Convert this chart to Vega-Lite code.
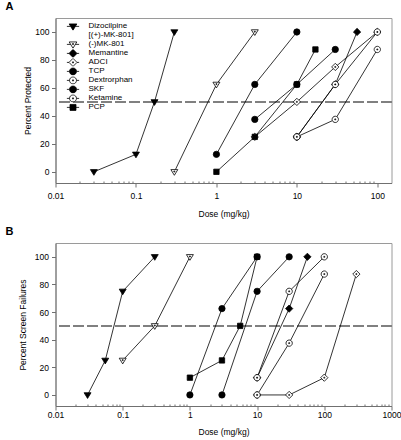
{
  "$schema": "https://vega.github.io/schema/vega-lite/v6.json",
  "padding": {"left": 4.5, "top": 0, "right": 5, "bottom": 0},
  "spacing": 6,
  "config": {
    "font": "Liberation Sans",
    "view": {"stroke": "#9a9a9a", "strokeWidth": 1},
    "axis": {"grid": false, "domainColor": "#707070", "tickColor": "#707070", "labelColor": "#000", "titleColor": "#000", "labelFontSize": 8.5, "titleFontSize": 8.5, "titleFontWeight": "normal", "labelFont": "Liberation Sans", "titleFont": "Liberation Sans", "tickWidth": 1, "domainWidth": 1},
    "title": {"font": "Liberation Sans", "fontSize": 11, "fontWeight": "bold", "anchor": "start", "frame": "group", "color": "#000"},
    "legend": {"labelFont": "Liberation Sans"}
  },
  "datasets": {
    "a": [
      {"drug": "Dizocilpine", "dose": 0.03, "pct": 0},
      {"drug": "Dizocilpine", "dose": 0.1, "pct": 12.5},
      {"drug": "Dizocilpine", "dose": 0.17, "pct": 50},
      {"drug": "Dizocilpine", "dose": 0.3, "pct": 100},
      {"drug": "(-)MK-801", "dose": 0.3, "pct": 0},
      {"drug": "(-)MK-801", "dose": 1, "pct": 62.5},
      {"drug": "(-)MK-801", "dose": 3, "pct": 100},
      {"drug": "Memantine", "dose": 10, "pct": 25},
      {"drug": "Memantine", "dose": 30, "pct": 62.5},
      {"drug": "Memantine", "dose": 56, "pct": 100},
      {"drug": "ADCI", "dose": 3, "pct": 25},
      {"drug": "ADCI", "dose": 10, "pct": 50},
      {"drug": "ADCI", "dose": 30, "pct": 75},
      {"drug": "ADCI", "dose": 100, "pct": 100},
      {"drug": "TCP", "dose": 1, "pct": 12.5},
      {"drug": "TCP", "dose": 3, "pct": 62.5},
      {"drug": "TCP", "dose": 10, "pct": 100},
      {"drug": "Dextrorphan", "dose": 10, "pct": 25},
      {"drug": "Dextrorphan", "dose": 30, "pct": 62.5},
      {"drug": "Dextrorphan", "dose": 100, "pct": 100},
      {"drug": "SKF", "dose": 3, "pct": 37.5},
      {"drug": "SKF", "dose": 10, "pct": 62.5},
      {"drug": "SKF", "dose": 30, "pct": 87.5},
      {"drug": "Ketamine", "dose": 10, "pct": 25},
      {"drug": "Ketamine", "dose": 30, "pct": 37.5},
      {"drug": "Ketamine", "dose": 100, "pct": 87.5},
      {"drug": "PCP", "dose": 1, "pct": 0},
      {"drug": "PCP", "dose": 3, "pct": 25},
      {"drug": "PCP", "dose": 10, "pct": 62.5},
      {"drug": "PCP", "dose": 17, "pct": 87.5}
    ],
    "b": [
      {"drug": "Dizocilpine", "dose": 0.03, "pct": 0},
      {"drug": "Dizocilpine", "dose": 0.055, "pct": 25},
      {"drug": "Dizocilpine", "dose": 0.1, "pct": 75},
      {"drug": "Dizocilpine", "dose": 0.3, "pct": 100},
      {"drug": "(-)MK-801", "dose": 0.1, "pct": 25},
      {"drug": "(-)MK-801", "dose": 0.3, "pct": 50},
      {"drug": "(-)MK-801", "dose": 1, "pct": 100},
      {"drug": "Memantine", "dose": 10, "pct": 12.5},
      {"drug": "Memantine", "dose": 30, "pct": 62.5},
      {"drug": "Memantine", "dose": 56, "pct": 100},
      {"drug": "ADCI", "dose": 10, "pct": 0},
      {"drug": "ADCI", "dose": 30, "pct": 0},
      {"drug": "ADCI", "dose": 100, "pct": 12.5},
      {"drug": "ADCI", "dose": 300, "pct": 87.5},
      {"drug": "TCP", "dose": 1, "pct": 0},
      {"drug": "TCP", "dose": 3, "pct": 62.5},
      {"drug": "TCP", "dose": 10, "pct": 100},
      {"drug": "Dextrorphan", "dose": 10, "pct": 12.5},
      {"drug": "Dextrorphan", "dose": 30, "pct": 75},
      {"drug": "Dextrorphan", "dose": 100, "pct": 100},
      {"drug": "SKF", "dose": 3, "pct": 0},
      {"drug": "SKF", "dose": 10, "pct": 75},
      {"drug": "SKF", "dose": 30, "pct": 100},
      {"drug": "Ketamine", "dose": 10, "pct": 0},
      {"drug": "Ketamine", "dose": 30, "pct": 37.5},
      {"drug": "Ketamine", "dose": 100, "pct": 87.5},
      {"drug": "PCP", "dose": 1, "pct": 12.5},
      {"drug": "PCP", "dose": 3, "pct": 25},
      {"drug": "PCP", "dose": 5.6, "pct": 50},
      {"drug": "PCP", "dose": 10, "pct": 100}
    ]
  },
  "vconcat": [
    {
      "width": 336,
      "height": 165,
      "title": {"text": "A", "dx": -50, "offset": 6},
      "data": {"name": "a"},
      "layer": [
        {
          "mark": {"type": "rule", "stroke": "#808080", "strokeWidth": 1, "strokeDash": [10, 4]},
          "encoding": {"y": {"datum": 50, "type": "quantitative", "scale": {"domain": [-8, 110], "nice": false, "zero": false},
              "axis": {"title": "Percent  Protected", "values": [0,20,40,60,80,100], "tickSize": 4, "labelPadding": 2.5, "titlePadding": 2, "labelOverlap": false}}}
        },
        {
          "mark": {"type": "line", "color": "black", "strokeWidth": 0.8},
          "encoding": {
            "x": {"field": "dose", "type": "quantitative", "scale": {"type": "log", "domain": [0.01, 150], "nice": false},
              "axis": {"title": "Dose (mg/kg)", "values": [0.01,0.02,0.03,0.04,0.05,0.06,0.07,0.08,0.09,0.1,0.2,0.3,0.4,0.5,0.6,0.7,0.8,0.9,1,2,3,4,5,6,7,8,9,10,20,30,40,50,60,70,80,90,100],
                "format": "~g", "labelExpr": "indexof([0.01,0.1,1,10,100,1000], datum.value) >= 0 ? datum.label : ''",
                "labelOverlap": false, "labelFlush": false, "labelPadding": 4, "titlePadding": 10,
                "tickSize": {"condition": {"test": "indexof([0.01,0.1,1,10,100,1000], datum.value) >= 0", "value": 4}, "value": -2}}},
            "y": {"field": "pct", "type": "quantitative", "scale": {"domain": [-8, 110], "nice": false, "zero": false},
              "axis": {"title": "Percent  Protected", "values": [0,20,40,60,80,100], "tickSize": 4, "labelPadding": 2.5, "titlePadding": 2, "labelOverlap": false}},
            "detail": {"field": "drug", "type": "nominal"},
            "order": {"field": "dose", "type": "quantitative"}
          }
        },
        {
          "mark": {"type": "point", "filled": true, "stroke": "black", "strokeWidth": 0.8, "size": 40, "opacity": 1},
          "encoding": {
            "x": {"field": "dose", "type": "quantitative", "scale": {"type": "log", "domain": [0.01, 150], "nice": false}},
            "y": {"field": "pct", "type": "quantitative", "scale": {"domain": [-8, 110], "nice": false, "zero": false},
              "axis": {"title": "Percent  Protected", "values": [0,20,40,60,80,100], "tickSize": 4, "labelPadding": 2.5, "titlePadding": 2, "labelOverlap": false}},
            "shape": {"field": "drug", "type": "nominal", "legend": null,
              "scale": {"domain": ["Dizocilpine", "(-)MK-801", "Memantine", "ADCI", "TCP", "Dextrorphan", "SKF", "Ketamine", "PCP"],
                "range": [
                  "M-1.1,-0.7L1.1,-0.7L0,1.1Z",
                  "M-1.1,-0.7L1.1,-0.7L0,1.1ZM-0.15,-0.25H0.15V0.05H-0.15Z",
                  "M0,-1.15L1.15,0L0,1.15L-1.15,0Z",
                  "M0,-1.15L1.15,0L0,1.15L-1.15,0ZM-0.15,-0.15H0.15V0.15H-0.15Z",
                  "circle",
                  "M-1,0A1,1 0 1,0 1,0A1,1 0 1,0 -1,0ZM-0.15,-0.15H0.15V0.15H-0.15Z",
                  "circle",
                  "M-1,0A1,1 0 1,0 1,0A1,1 0 1,0 -1,0ZM-0.15,-0.15H0.15V0.15H-0.15Z",
                  "M-0.85,-0.85H0.85V0.85H-0.85Z"
                ]}},
            "fill": {"field": "drug", "type": "nominal", "legend": null,
              "scale": {"domain": ["Dizocilpine", "(-)MK-801", "Memantine", "ADCI", "TCP", "Dextrorphan", "SKF", "Ketamine", "PCP"],
                "range": ["black", "white", "black", "white", "black", "white", "black", "white", "black"]}}
          }
        },
        {
          "mark": {"type": "point", "filled": true, "stroke": "black", "strokeWidth": 0.8, "size": 49, "opacity": 1},
          "transform": [{"filter": "false"}],
          "encoding": {
            "x": {"field": "dose", "type": "quantitative", "scale": {"type": "log", "domain": [0.01, 150], "nice": false}},
            "y": {"field": "pct", "type": "quantitative", "scale": {"domain": [-8, 110], "nice": false, "zero": false},
              "axis": {"title": "Percent  Protected", "values": [0,20,40,60,80,100], "tickSize": 4, "labelPadding": 2.5, "titlePadding": 2, "labelOverlap": false}},
            "shape": {"field": "drug", "type": "nominal",
              "legend": {"orient": "none", "legendX": 10.5, "legendY": 4.3, "title": null, "padding": 0, "labelFontSize": 8, "labelColor": "#000", "symbolSize": 49, "symbolOffset": 3, "labelOffset": 11.5, "clipHeight": 8.2, "rowPadding": 0, "symbolStrokeWidth": 0.8, "labelLimit": 200},
              "scale": {"domain": ["Dizocilpine", "[(+)-MK-801]", "(-)MK-801", "Memantine", "ADCI", "TCP", "Dextrorphan", "SKF", "Ketamine", "PCP"],
                "range": [
                  "M-1.75,0H-0.67M0.67,0H1.75M-1.1,-0.7L1.1,-0.7L0,1.1Z",
                  "M0,0",
                  "M-1.75,0H-0.67M0.67,0H1.75M-1.1,-0.7L1.1,-0.7L0,1.1ZM-0.15,-0.25H0.15V0.05H-0.15Z",
                  "M-1.75,0H-1.15M1.15,0H1.75M0,-1.15L1.15,0L0,1.15L-1.15,0Z",
                  "M-1.75,0H-1.15M1.15,0H1.75M0,-1.15L1.15,0L0,1.15L-1.15,0ZM-0.15,-0.15H0.15V0.15H-0.15Z",
                  "M-1.75,0H-1M1,0H1.75M1,0L0.924,0.383L0.707,0.707L0.383,0.924L0,1L-0.383,0.924L-0.707,0.707L-0.924,0.383L-1,0L-0.924,-0.383L-0.707,-0.707L-0.383,-0.924L0,-1L0.383,-0.924L0.707,-0.707L0.924,-0.383Z",
                  "M-1.75,0H-1M1,0H1.75M1,0L0.924,0.383L0.707,0.707L0.383,0.924L0,1L-0.383,0.924L-0.707,0.707L-0.924,0.383L-1,0L-0.924,-0.383L-0.707,-0.707L-0.383,-0.924L0,-1L0.383,-0.924L0.707,-0.707L0.924,-0.383ZM-0.15,-0.15H0.15V0.15H-0.15Z",
                  "M-1.75,0H-1M1,0H1.75M1,0L0.924,0.383L0.707,0.707L0.383,0.924L0,1L-0.383,0.924L-0.707,0.707L-0.924,0.383L-1,0L-0.924,-0.383L-0.707,-0.707L-0.383,-0.924L0,-1L0.383,-0.924L0.707,-0.707L0.924,-0.383Z",
                  "M-1.75,0H-1M1,0H1.75M1,0L0.924,0.383L0.707,0.707L0.383,0.924L0,1L-0.383,0.924L-0.707,0.707L-0.924,0.383L-1,0L-0.924,-0.383L-0.707,-0.707L-0.383,-0.924L0,-1L0.383,-0.924L0.707,-0.707L0.924,-0.383ZM-0.15,-0.15H0.15V0.15H-0.15Z",
                  "M-1.75,0H-0.85M0.85,0H1.75M-0.85,-0.85H0.85V0.85H-0.85Z"
                ]}},
            "fill": {"field": "drug", "type": "nominal",
              "legend": {"orient": "none", "legendX": 10.5, "legendY": 4.3, "title": null, "padding": 0, "labelFontSize": 8, "labelColor": "#000", "symbolSize": 49, "symbolOffset": 3, "labelOffset": 11.5, "clipHeight": 8.2, "rowPadding": 0, "symbolStrokeWidth": 0.8, "labelLimit": 200},
              "scale": {"domain": ["Dizocilpine", "[(+)-MK-801]", "(-)MK-801", "Memantine", "ADCI", "TCP", "Dextrorphan", "SKF", "Ketamine", "PCP"],
                "range": ["black", "white", "white", "black", "white", "black", "white", "black", "white", "black"]}}
          }
        }
      ],
      "resolve": {"scale": {"shape": "independent", "fill": "independent"}}
    },
    {
      "width": 336,
      "height": 163,
      "title": {"text": "B", "dx": -50, "offset": 6},
      "data": {"name": "b"},
      "layer": [
        {
          "mark": {"type": "rule", "stroke": "#808080", "strokeWidth": 1, "strokeDash": [10, 4]},
          "encoding": {"y": {"datum": 50, "type": "quantitative", "scale": {"domain": [-8, 110], "nice": false, "zero": false},
              "axis": {"title": "Percent Screen Failures", "values": [0,20,40,60,80,100], "tickSize": 4, "labelPadding": 3, "titlePadding": 7, "labelOverlap": false}}}
        },
        {
          "mark": {"type": "line", "color": "black", "strokeWidth": 0.8},
          "encoding": {
            "x": {"field": "dose", "type": "quantitative", "scale": {"type": "log", "domain": [0.01, 1000], "nice": false},
              "axis": {"title": "Dose (mg/kg)", "values": [0.01,0.02,0.03,0.04,0.05,0.06,0.07,0.08,0.09,0.1,0.2,0.3,0.4,0.5,0.6,0.7,0.8,0.9,1,2,3,4,5,6,7,8,9,10,20,30,40,50,60,70,80,90,100,200,300,400,500,600,700,800,900,1000],
                "format": "~g", "labelExpr": "indexof([0.01,0.1,1,10,100,1000], datum.value) >= 0 ? datum.label : ''",
                "labelOverlap": false, "labelFlush": false, "labelPadding": 0.7, "titlePadding": 8.6,
                "tickSize": {"condition": {"test": "indexof([0.01,0.1,1,10,100,1000], datum.value) >= 0", "value": 4}, "value": -2}}},
            "y": {"field": "pct", "type": "quantitative", "scale": {"domain": [-8, 110], "nice": false, "zero": false},
              "axis": {"title": "Percent Screen Failures", "values": [0,20,40,60,80,100], "tickSize": 4, "labelPadding": 3, "titlePadding": 7, "labelOverlap": false}},
            "detail": {"field": "drug", "type": "nominal"},
            "order": {"field": "dose", "type": "quantitative"}
          }
        },
        {
          "mark": {"type": "point", "filled": true, "stroke": "black", "strokeWidth": 0.8, "size": 40, "opacity": 1},
          "encoding": {
            "x": {"field": "dose", "type": "quantitative", "scale": {"type": "log", "domain": [0.01, 1000], "nice": false}},
            "y": {"field": "pct", "type": "quantitative", "scale": {"domain": [-8, 110], "nice": false, "zero": false},
              "axis": {"title": "Percent Screen Failures", "values": [0,20,40,60,80,100], "tickSize": 4, "labelPadding": 3, "titlePadding": 7, "labelOverlap": false}},
            "shape": {"field": "drug", "type": "nominal", "legend": null,
              "scale": {"domain": ["Dizocilpine", "(-)MK-801", "Memantine", "ADCI", "TCP", "Dextrorphan", "SKF", "Ketamine", "PCP"],
                "range": [
                  "M-1.1,-0.7L1.1,-0.7L0,1.1Z",
                  "M-1.1,-0.7L1.1,-0.7L0,1.1ZM-0.15,-0.25H0.15V0.05H-0.15Z",
                  "M0,-1.15L1.15,0L0,1.15L-1.15,0Z",
                  "M0,-1.15L1.15,0L0,1.15L-1.15,0ZM-0.15,-0.15H0.15V0.15H-0.15Z",
                  "circle",
                  "M-1,0A1,1 0 1,0 1,0A1,1 0 1,0 -1,0ZM-0.15,-0.15H0.15V0.15H-0.15Z",
                  "circle",
                  "M-1,0A1,1 0 1,0 1,0A1,1 0 1,0 -1,0ZM-0.15,-0.15H0.15V0.15H-0.15Z",
                  "M-0.85,-0.85H0.85V0.85H-0.85Z"
                ]}},
            "fill": {"field": "drug", "type": "nominal", "legend": null,
              "scale": {"domain": ["Dizocilpine", "(-)MK-801", "Memantine", "ADCI", "TCP", "Dextrorphan", "SKF", "Ketamine", "PCP"],
                "range": ["black", "white", "black", "white", "black", "white", "black", "white", "black"]}}
          }
        }
      ]
    }
  ]
}
